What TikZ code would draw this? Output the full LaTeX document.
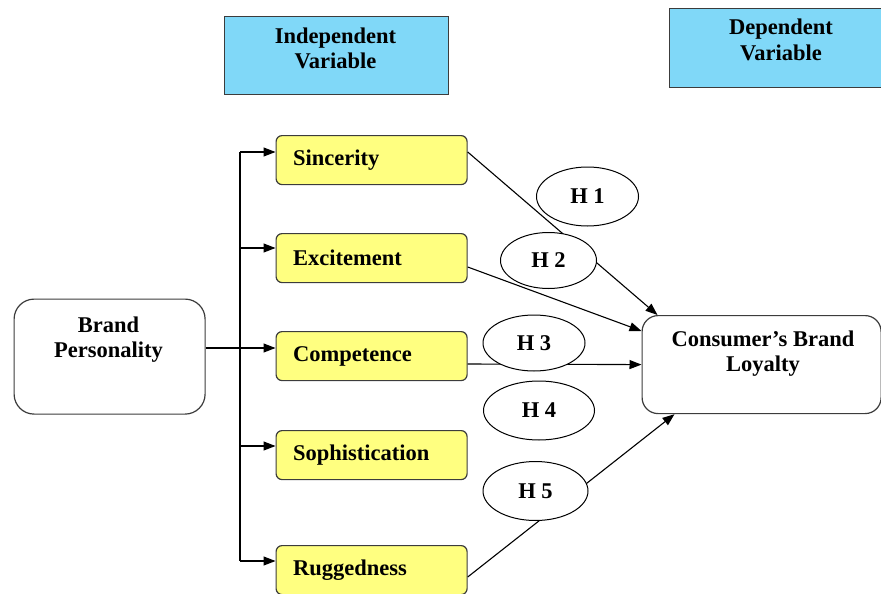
\documentclass[tikz,border=0pt]{standalone}
\usepackage{fontspec}
\setmainfont{Liberation Serif}
\usetikzlibrary{arrows.meta,shapes.geometric}
\definecolor{hdrblue}{RGB}{128,216,248}
\definecolor{boxyellow}{RGB}{255,255,128}
\definecolor{edgegray}{RGB}{60,60,60}
\tikzset{
  txt/.style={font=\fontsize{22.5}{25}\selectfont\bfseries, align=center, inner sep=0pt},
  hdr/.style={draw=edgegray, line width=1.3pt, fill=hdrblue, anchor=north west, inner sep=0pt},
  ybox/.style={draw=edgegray, line width=1.2pt, fill=boxyellow, rounded corners=6pt,
    anchor=north west, minimum width=191pt, minimum height=49pt,
    font=\fontsize{22.5}{25}\selectfont\bfseries, text width=157pt, align=left, inner xsep=17pt, inner ysep=0pt},
  wbox/.style={draw=edgegray, line width=1.2pt, fill=white, anchor=north west, inner sep=0pt},
  hyp/.style={draw=black, line width=1pt, fill=white, ellipse, inner sep=0pt,
    font=\fontsize{22.5}{25}\selectfont\bfseries},
  conn/.style={draw=black, line width=1.1pt},
  arr/.style={conn, -{Triangle[length=12pt, width=9pt]}}
}
\begin{document}
\begin{tikzpicture}[x=1pt, y=-1pt]
\useasboundingbox (0,0) rectangle (881,594);

% header boxes
\node[hdr, minimum width=224pt, minimum height=78pt] (indep) at (223.5,16) {};
\node[txt, anchor=base] (indept) at (335.5,69) {Independent\\Variable};
\node[hdr, minimum width=212pt, minimum height=79pt] (dep) at (668.5,8) {};
\node[txt, anchor=base] (dept) at (781,60) {Dependent\\Variable};

% brand personality
\node[wbox, rounded corners=20pt, minimum width=191pt, minimum height=115pt] (bp) at (13.5,298.5) {};
\node[txt, anchor=base] (bpt) at (108.5,357.5) {Brand\\Personality};

% consumer's brand loyalty
\node[wbox, rounded corners=16pt, minimum width=239pt, minimum height=98pt] (cbl) at (641.5,315) {};
\node[txt, anchor=base] (cblt) at (763,371) {Consumer’s Brand\\Loyalty};

% yellow boxes
\node[ybox] (sin)  at (275.5,135) {Sincerity};
\node[ybox] (exc)  at (275.5,233) {Excitement};
\node[ybox] (comp) at (275.5,331) {Competence};
\node[ybox] (soph) at (275.5,430) {Sophistication};
\node[ybox] (rug)  at (275.5,545) {Ruggedness};

% entry points on yellow boxes
\coordinate (sinin)  at ([yshift=-17pt]sin.north west);
\coordinate (excin)  at ([yshift=-15pt]exc.north west);
\coordinate (compin) at ([yshift=-17pt]comp.north west);
\coordinate (sophin) at ([yshift=-16pt]soph.north west);
\coordinate (rugin)  at ([yshift=-16pt]rug.north west);
\coordinate (bus) at (240,0);

% bus and branch arrows
\draw[conn] (bus |- sinin) -- (bus |- rugin);
\draw[arr] (bus |- sinin) -- (sinin);
\draw[arr] (bus |- excin) -- (excin);
\draw[arr] (bp.east |- compin) -- (compin);
\draw[arr] (bus |- sophin) -- (sophin);
\draw[arr] (bus |- rugin) -- (rugin);

% outgoing points
\coordinate (sinout)  at ([yshift=-17pt]sin.north east);
\coordinate (excout)  at ([yshift=-34pt]exc.north east);
\coordinate (compout) at ([yshift=-33pt]comp.north east);
\coordinate (rugout)  at ([yshift=-32pt]rug.north east);
\coordinate (cblA) at ([xshift=16pt]cbl.north west);
\coordinate (cblB) at ([yshift=-16pt]cbl.north west);
\coordinate (cblC) at (cbl.west);
\coordinate (cblD) at ([xshift=33pt]cbl.south west);

\draw[arr] (sinout) -- (cblA);
\draw[arr] (excout) -- (cblB);
\draw[arr] (compout) -- (cblC);
\draw[arr] (rugout) -- (cblD);

% hypothesis ellipses
\node[hyp, minimum width=102pt, minimum height=59pt] (h1) at (587.5,196.5) {H 1};
\node[hyp, minimum width=96pt, minimum height=56pt] (h2) at (548.5,260.5) {H 2};
\node[hyp, minimum width=102pt, minimum height=56pt] (h3) at (534,343) {H 3};
\node[hyp, minimum width=111pt, minimum height=59pt] (h4) at (539,410.5) {H 4};
\node[hyp, minimum width=105pt, minimum height=59pt] (h5) at (535.5,491) {H 5};
\end{tikzpicture}
\end{document}
